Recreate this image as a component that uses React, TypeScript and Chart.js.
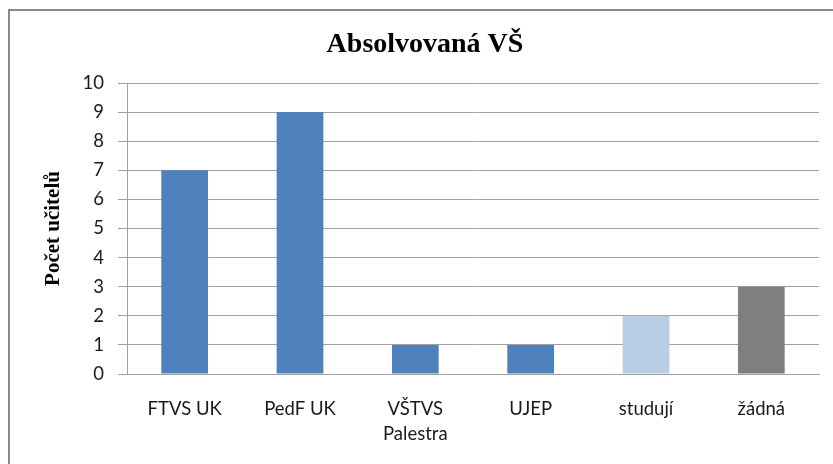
import React, { useEffect, useRef } from "react";
import { Chart, registerables } from "chart.js";

Chart.register(...registerables);

const chartTitle = "Absolvovaná VŠ";
const yAxisTitle = "Počet učitelů";
const categories: (string | string[])[] = ["FTVS UK", "PedF UK", ["VŠTVS", "Palestra"], "UJEP", "studují", "žádná"];
const teacherCounts = [7, 9, 1, 1, 2, 3];
const barColors = ["#4F81BD", "#4F81BD", "#4F81BD", "#4F81BD", "#B9CDE5", "#7F7F7F"];
const yMin = 0;
const yMax = 10;
const yStep = 1;

export default function App() {
  const canvasRef = useRef<HTMLCanvasElement | null>(null);

  useEffect(() => {
    if (!canvasRef.current) return;
    const chart = new Chart(canvasRef.current, {
      type: "bar",
      data: {
        labels: categories,
        datasets: [
          {
            data: teacherCounts,
            backgroundColor: barColors,
            borderWidth: 0,
            categoryPercentage: 1,
            barPercentage: 0.405,
          },
        ],
      },
      options: {
        responsive: false,
        animation: false,
        devicePixelRatio: 1,
        layout: { padding: { top: 0, left: 21, right: 21, bottom: 0 } },
        plugins: {
          legend: { display: false },
          tooltip: { enabled: false },
          title: {
            display: true,
            text: chartTitle,
            color: "#000",
            font: { family: "'Liberation Serif', 'Times New Roman', serif", size: 28, weight: "bold", lineHeight: 1.2 },
            padding: { top: 16.5, bottom: 21.9 },
          },
        },
        scales: {
          x: {
            grid: { display: false, drawTicks: false },
            border: { display: true, color: "#a0a0a0", width: 1 },
            ticks: {
              color: "#1a1a1a",
              padding: 22.5,
              maxRotation: 0,
              autoSkip: false,
              font: { family: "Lato, 'Open Sans', sans-serif", size: 18.5, lineHeight: 1.351 },
            },
            afterFit: (scale: any) => {
              scale.height = 97;
            },
          },
          y: {
            min: yMin,
            max: yMax,
            grid: { color: "#a0a0a0", lineWidth: 1, drawTicks: true, tickLength: 9 },
            border: { display: true, color: "#a0a0a0", width: 1 },
            ticks: {
              stepSize: yStep,
              color: "#1a1a1a",
              padding: 14,
              font: { family: "Lato, 'Open Sans', sans-serif", size: 18.5 },
            },
            title: {
              display: true,
              text: yAxisTitle,
              color: "#000",
              font: { family: "'Liberation Serif', 'Times New Roman', serif", size: 21, weight: "bold", lineHeight: 1.2 },
              padding: { top: 9.5, bottom: 0 },
            },
            afterFit: (scale: any) => {
              scale.width = 96;
            },
          },
        },
      },
    });
    return () => chart.destroy();
  }, []);

  return (
    <div
      style={{
        position: "fixed",
        left: 8,
        top: 9,
        width: 830,
        height: 460,
        borderTop: "2px solid #888",
        borderLeft: "2px solid #888",
        background: "#fff",
      }}
    >
      <canvas ref={canvasRef} width={830} height={460} style={{ display: "block" }} />
    </div>
  );
}
